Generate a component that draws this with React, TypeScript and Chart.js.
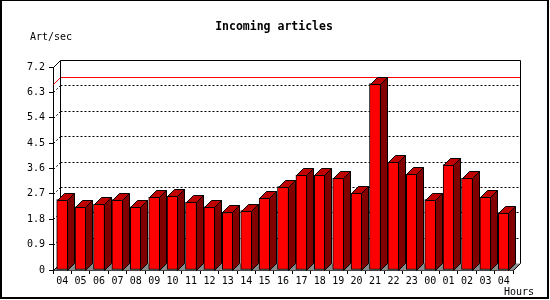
import React, { useEffect, useRef } from 'react';
import { Chart, registerables } from 'chart.js';

Chart.register(...registerables);

const hours = ['04', '05', '06', '07', '08', '09', '10', '11', '12', '13', '14', '15', '16', '17', '18', '19', '20', '21', '22', '23', '00', '01', '02', '03', '04'];
const articlesPerSec = [2.50, 2.24, 2.33, 2.50, 2.24, 2.58, 2.61, 2.40, 2.24, 2.04, 2.11, 2.54, 2.96, 3.37, 3.36, 3.25, 2.72, 6.61, 3.82, 3.39, 2.50, 3.74, 3.25, 2.58, 2.01];
const yTicks = [0, 0.9, 1.8, 2.7, 3.6, 4.5, 5.4, 6.3, 7.2];
const yTickLabels = ['0', '0.9', '1.8', '2.7', '3.6', '4.5', '5.4', '6.3', '7.2'];
const chartTitle = 'Incoming articles';
const yTitle = 'Art/sec';
const xTitle = 'Hours';

const DX = 7;
const DY = 7;
const MONO = '"DejaVu Sans Mono", "Liberation Mono", monospace';

const threeD = {
  id: 'threeD',
  beforeDraw(chart: any) {
    const { ctx } = chart;
    ctx.save();
    ctx.fillStyle = '#ffffff';
    ctx.fillRect(0, 0, 550, 300);
    ctx.fillStyle = '#000000';
    ctx.fillRect(0, 0, 549, 1);
    ctx.fillRect(0, 0, 2, 299);
    ctx.fillRect(547, 0, 2, 299);
    ctx.fillRect(0, 297, 549, 2);
    ctx.textBaseline = 'middle';
    ctx.font = `bold 11.5px ${MONO}`;
    ctx.textAlign = 'center';
    ctx.fillText(chartTitle, 274, 27);
    ctx.font = `10px ${MONO}`;
    ctx.textAlign = 'left';
    ctx.fillText(yTitle, 30, 37);
    ctx.fillText(xTitle, 504, 292);
    ctx.restore();
  },
  beforeDatasetsDraw(chart: any) {
    const { ctx, chartArea: a, scales } = chart;
    const y = scales.y;
    const L = Math.round(a.left) + 0.5;
    const R = Math.round(a.right) + 0.5;
    const T = Math.round(a.top) + 0.5;
    const B = Math.round(a.bottom) + 0.5;
    ctx.save();
    // floor
    ctx.fillStyle = '#8a8a8a';
    ctx.beginPath();
    ctx.moveTo(L, B);
    ctx.lineTo(L + DX, B - DY);
    ctx.lineTo(R + DX, B - DY);
    ctx.lineTo(R, B);
    ctx.closePath();
    ctx.fill();
    // dotted gridlines on back wall and left wall
    ctx.strokeStyle = '#000000';
    ctx.lineWidth = 1;
    ctx.setLineDash([2, 2]);
    yTicks.forEach((v) => {
      if (v <= yTicks[0] || v >= yTicks[yTicks.length - 1]) return;
      const py = Math.round(y.getPixelForValue(v)) + 0.5;
      ctx.beginPath();
      ctx.moveTo(L + DX, py - DY);
      ctx.lineTo(R + DX, py - DY);
      ctx.stroke();
      ctx.beginPath();
      ctx.moveTo(L, py);
      ctx.lineTo(L + DX, py - DY);
      ctx.stroke();
    });
    ctx.setLineDash([]);
    // max line
    const maxV = Math.max(...articlesPerSec);
    const my = Math.round(y.getPixelForValue(maxV)) + 0.5;
    ctx.strokeStyle = '#ff0000';
    ctx.beginPath();
    ctx.moveTo(L, my);
    ctx.lineTo(L + DX, my - DY);
    ctx.lineTo(R + DX, my - DY);
    ctx.stroke();
    // box frame
    ctx.strokeStyle = '#000000';
    ctx.beginPath();
    ctx.moveTo(L, T);
    ctx.lineTo(L + DX, T - DY);
    ctx.lineTo(R + DX, T - DY);
    ctx.lineTo(R + DX, B - DY);
    ctx.lineTo(R, B);
    ctx.stroke();
    ctx.beginPath();
    ctx.moveTo(L + DX, T - DY);
    ctx.lineTo(L + DX, B - DY);
    ctx.moveTo(L, B);
    ctx.lineTo(L + DX, B - DY);
    ctx.stroke();
    ctx.restore();
  },
  afterDatasetsDraw(chart: any) {
    const { ctx } = chart;
    const meta = chart.getDatasetMeta(0);
    ctx.save();
    ctx.strokeStyle = '#000000';
    ctx.lineWidth = 1;
    meta.data.forEach((bar: any) => {
      const p = bar.getProps(['x', 'y', 'base', 'width'], true);
      const l = Math.round(p.x - p.width / 2) + 0.5;
      const r = Math.round(p.x + p.width / 2) - 0.5;
      const t = Math.round(p.y) + 0.5;
      const b = Math.round(p.base) + 0.5;
      // side face
      ctx.fillStyle = '#800000';
      ctx.beginPath();
      ctx.moveTo(r, t);
      ctx.lineTo(r + DX, t - DY);
      ctx.lineTo(r + DX, b - DY);
      ctx.lineTo(r, b);
      ctx.closePath();
      ctx.fill();
      ctx.stroke();
      // top face
      ctx.fillStyle = '#c00000';
      ctx.beginPath();
      ctx.moveTo(l, t);
      ctx.lineTo(l + DX, t - DY);
      ctx.lineTo(r + DX, t - DY);
      ctx.lineTo(r, t);
      ctx.closePath();
      ctx.fill();
      ctx.stroke();
    });
    ctx.restore();
  },
};

export default function App() {
  const ref = useRef<HTMLCanvasElement | null>(null);

  useEffect(() => {
    document.body.style.margin = '0';
    const canvas = ref.current;
    if (!canvas) return;
    const chart = new Chart(canvas, {
      type: 'bar',
      data: {
        labels: hours,
        datasets: [
          {
            data: articlesPerSec,
            backgroundColor: '#ff0000',
            borderColor: '#000000',
            borderWidth: 1,
            borderSkipped: false,
            barThickness: 11,
          },
        ],
      },
      options: {
        responsive: false,
        animation: false,
        devicePixelRatio: 1,
        layout: { padding: { left: 0, top: 67, right: 37, bottom: 0 } },
        plugins: {
          legend: { display: false },
          tooltip: { enabled: false },
          title: { display: false },
        },
        scales: {
          x: {
            grid: { display: true, drawOnChartArea: false, drawTicks: true, tickLength: 4, color: '#000000', offset: true },
            border: { display: true, color: '#000000', width: 1 },
            ticks: {
              color: '#000000',
              font: { family: MONO, size: 10 },
              padding: 1,
              maxRotation: 0,
              autoSkip: false,
            },
            afterFit: (s: any) => {
              s.height = 30;
            },
          },
          y: {
            min: 0,
            max: yTicks[yTicks.length - 1],
            afterBuildTicks: (s: any) => {
              s.ticks = yTicks.map((v) => ({ value: v }));
            },
            grid: { display: true, drawOnChartArea: false, drawTicks: true, tickLength: 4, color: '#000000' },
            border: { display: true, color: '#000000', width: 1 },
            ticks: {
              color: '#000000',
              font: { family: MONO, size: 10 },
              padding: 4,
              callback: (_v: any, i: number) => yTickLabels[i],
            },
            afterFit: (s: any) => {
              s.width = 53;
            },
          },
        },
      },
      plugins: [threeD],
    });
    return () => chart.destroy();
  }, []);

  return (
    <div style={{ width: 550, height: 300 }}>
      <canvas ref={ref} width={550} height={300} style={{ display: 'block' }} />
    </div>
  );
}
